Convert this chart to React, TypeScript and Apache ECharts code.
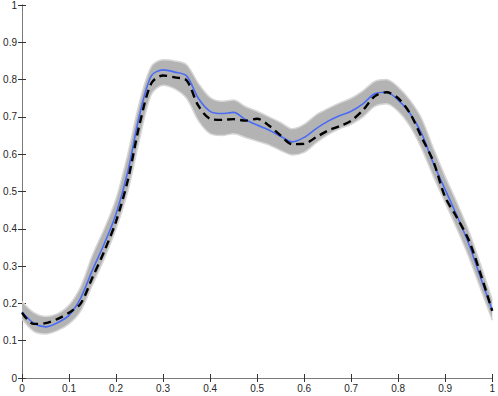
import React, { useEffect, useRef } from "react";
import * as echarts from "echarts";

const xs = [0, 0.025, 0.05, 0.075, 0.1, 0.125, 0.15, 0.175, 0.2, 0.225, 0.25, 0.275, 0.3, 0.325, 0.35, 0.375, 0.4, 0.425, 0.45, 0.475, 0.5, 0.525, 0.55, 0.575, 0.6, 0.625, 0.65, 0.675, 0.7, 0.725, 0.75, 0.775, 0.8, 0.825, 0.85, 0.875, 0.9, 0.925, 0.95, 0.975, 1];

const meanCurve = [0.177, 0.147, 0.137, 0.148, 0.168, 0.215, 0.29, 0.36, 0.44, 0.553, 0.705, 0.81, 0.826, 0.82, 0.81, 0.75, 0.715, 0.709, 0.712, 0.693, 0.678, 0.665, 0.648, 0.633, 0.645, 0.668, 0.688, 0.703, 0.715, 0.735, 0.762, 0.766, 0.745, 0.71, 0.655, 0.575, 0.505, 0.435, 0.36, 0.27, 0.182];

const dashedCurve = [0.175, 0.145, 0.147, 0.158, 0.175, 0.2, 0.27, 0.34, 0.42, 0.53, 0.68, 0.79, 0.811, 0.806, 0.798, 0.73, 0.695, 0.692, 0.694, 0.69, 0.695, 0.677, 0.65, 0.627, 0.628, 0.645, 0.663, 0.675, 0.69, 0.718, 0.755, 0.766, 0.75, 0.71, 0.645, 0.58, 0.485, 0.43, 0.37, 0.28, 0.18];

const bandLower = [0.158, 0.125, 0.118, 0.127, 0.145, 0.18, 0.25, 0.32, 0.4, 0.5, 0.64, 0.76, 0.785, 0.775, 0.75, 0.69, 0.655, 0.65, 0.655, 0.645, 0.635, 0.625, 0.61, 0.598, 0.605, 0.63, 0.652, 0.668, 0.68, 0.7, 0.728, 0.735, 0.715, 0.675, 0.615, 0.54, 0.47, 0.4, 0.325, 0.24, 0.155];

const bandUpper = [0.205, 0.175, 0.165, 0.172, 0.195, 0.245, 0.33, 0.4, 0.48, 0.6, 0.74, 0.835, 0.853, 0.85, 0.84, 0.79, 0.752, 0.742, 0.745, 0.728, 0.715, 0.7, 0.685, 0.668, 0.68, 0.705, 0.722, 0.737, 0.75, 0.77, 0.795, 0.8, 0.78, 0.745, 0.695, 0.615, 0.54, 0.47, 0.395, 0.305, 0.21];

const xTickLabels = ["0", "0.1", "0.2", "0.3", "0.4", "0.5", "0.6", "0.7", "0.8", "0.9", "1"];
const yTickLabels = ["0", "0.1", "0.2", "0.3", "0.4", "0.5", "0.6", "0.7", "0.8", "0.9", "1"];

export default function App() {
  const ref = useRef<HTMLDivElement>(null);
  useEffect(() => {
    document.body.style.margin = "0";
    if (!ref.current) return;
    const chart = echarts.init(ref.current, null, { renderer: "svg" });
    const axisColor = "#7a7a7a";
    const labelStyle = { color: "#262626", fontSize: 10, fontFamily: "Liberation Sans, Arial, sans-serif" };
    const baseAxis = {
      type: "value" as const,
      min: 0,
      max: 1,
      interval: 0.1,
      splitLine: { show: false },
      axisLine: { show: true, lineStyle: { color: axisColor, width: 1 } },
      axisTick: { show: true, inside: true, length: 4, lineStyle: { color: "#333", width: 1 } },
    };
    const smooth = 0.3;
    chart.setOption({
      animation: false,
      grid: { left: 22, right: 3, top: 4.5, bottom: 18, containLabel: false },
      xAxis: [
        {
          ...baseAxis,
          position: "bottom",
          axisLabel: { ...labelStyle, margin: 5, formatter: (v: number) => xTickLabels[Math.round(v * 10)] },
        },
        { ...baseAxis, position: "top", axisLabel: { show: false } },
        {
          type: "category",
          data: xs.map(String),
          boundaryGap: false,
          show: false,
        },
      ],
      yAxis: [
        {
          ...baseAxis,
          position: "left",
          axisLabel: { ...labelStyle, margin: 5, formatter: (v: number) => yTickLabels[Math.round(v * 10)] },
        },
        { ...baseAxis, position: "right", axisLabel: { show: false } },
      ],
      series: [
        {
          type: "line",
          name: "lower",
          xAxisIndex: 2,
          stack: "band",
          data: bandLower,
          smooth,
          symbol: "none",
          lineStyle: { color: "#d6d6d6", width: 1.5 },
          z: 1,
        },
        {
          type: "line",
          name: "band",
          xAxisIndex: 2,
          stack: "band",
          data: bandUpper.map((u, i) => u - bandLower[i]),
          smooth,
          symbol: "none",
          lineStyle: { color: "#d6d6d6", width: 1.5 },
          areaStyle: { color: "#b3b3b3", opacity: 1 },
          z: 1,
        },
        {
          type: "line",
          name: "mean",
          data: xs.map((x, i) => [x, meanCurve[i]]),
          smooth,
          symbol: "none",
          lineStyle: { color: "#4a6cf5", width: 1.6 },
          z: 3,
        },
        {
          type: "line",
          name: "reference",
          data: xs.map((x, i) => [x, dashedCurve[i]]),
          smooth,
          symbol: "none",
          lineStyle: { color: "#000000", width: 2.4, type: [8, 5] },
          z: 4,
        },
      ],
    });
    return () => chart.dispose();
  }, []);
  return <div ref={ref} style={{ width: 498, height: 396 }} />;
}
